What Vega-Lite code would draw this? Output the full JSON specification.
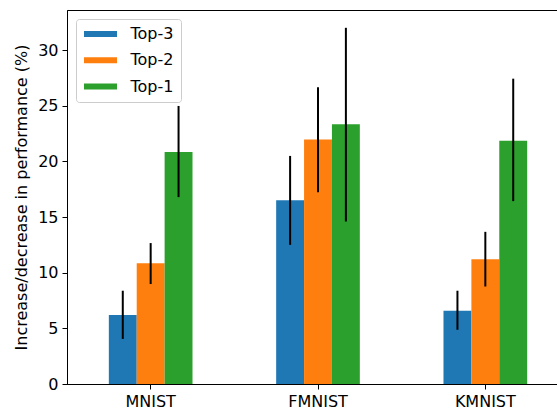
{
  "$schema": "https://vega.github.io/schema/vega-lite/v6.json",
  "autosize": "none",
  "padding": {"left": 67, "top": 10, "right": 0, "bottom": 26},
  "width": 502,
  "height": 374,
  "background": "white",
  "config": {
    "font": "DejaVu Sans",
    "view": {"stroke": "black", "strokeWidth": 1},
    "axis": {
      "grid": false,
      "domainColor": "black",
      "domainWidth": 1,
      "tickColor": "black",
      "tickWidth": 1,
      "tickSize": 5,
      "labelPadding": 4,
      "labelFontSize": 16,
      "labelColor": "black",
      "titleFontSize": 16,
      "titleFontWeight": "normal",
      "titleColor": "black"
    }
  },
  "data": {
    "values": [
      {"dataset": "MNIST", "model": "Top-3", "value": 6.2, "lo": 4.05, "hi": 8.38},
      {"dataset": "MNIST", "model": "Top-2", "value": 10.85, "lo": 8.98, "hi": 12.66},
      {"dataset": "MNIST", "model": "Top-1", "value": 20.85, "lo": 16.79, "hi": 24.98},
      {"dataset": "FMNIST", "model": "Top-3", "value": 16.5, "lo": 12.5, "hi": 20.49},
      {"dataset": "FMNIST", "model": "Top-2", "value": 21.97, "lo": 17.23, "hi": 26.66},
      {"dataset": "FMNIST", "model": "Top-1", "value": 23.33, "lo": 14.6, "hi": 32.0},
      {"dataset": "KMNIST", "model": "Top-3", "value": 6.58, "lo": 4.87, "hi": 8.38},
      {"dataset": "KMNIST", "model": "Top-2", "value": 11.2, "lo": 8.76, "hi": 13.67},
      {"dataset": "KMNIST", "model": "Top-1", "value": 21.86, "lo": 16.43, "hi": 27.43}
    ]
  },
  "encoding": {
    "x": {
      "field": "dataset",
      "type": "nominal",
      "sort": ["MNIST", "FMNIST", "KMNIST"],
      "scale": {"paddingInner": 0, "paddingOuter": 0},
      "axis": {"title": null, "labelAngle": 0}
    },
    "xOffset": {
      "field": "model",
      "type": "nominal",
      "scale": {"domain": ["_l", "Top-3", "Top-2", "Top-1", "_r"], "paddingInner": 0, "paddingOuter": 0.5}
    }
  },
  "layer": [
    {
      "mark": {"type": "bar"},
      "encoding": {
        "y": {
          "field": "value",
          "type": "quantitative",
          "scale": {"domain": [0, 33.6], "nice": false, "zero": true},
          "axis": {
            "title": "Increase/decrease in performance (%)",
            "values": [0, 5, 10, 15, 20, 25, 30],
            "titlePadding": 8
          }
        },
        "color": {
          "field": "model",
          "type": "nominal",
          "scale": {"domain": ["Top-3", "Top-2", "Top-1"], "range": ["#1f77b4", "#ff7f0e", "#2ca02c"]},
          "legend": {
            "title": null,
            "orient": "none",
            "legendX": 9,
            "legendY": 9,
            "symbolType": "M-2.75,-0.5L2.75,-0.5L2.75,0.5L-2.75,0.5Z",
            "symbolSize": 144,
            "symbolOffset": 9.5,
            "symbolStrokeWidth": 0,
            "symbolOpacity": 1,
            "labelFontSize": 16,
            "labelColor": "black",
            "labelOffset": 22,
            "padding": 7,
            "rowPadding": 10.3,
            "strokeColor": "#cccccc",
            "fillColor": "white",
            "cornerRadius": 3
          }
        }
      }
    },
    {
      "mark": {"type": "rule", "color": "black", "strokeWidth": 2},
      "encoding": {
        "y": {"field": "lo", "type": "quantitative"},
        "y2": {"field": "hi"}
      }
    }
  ]
}
